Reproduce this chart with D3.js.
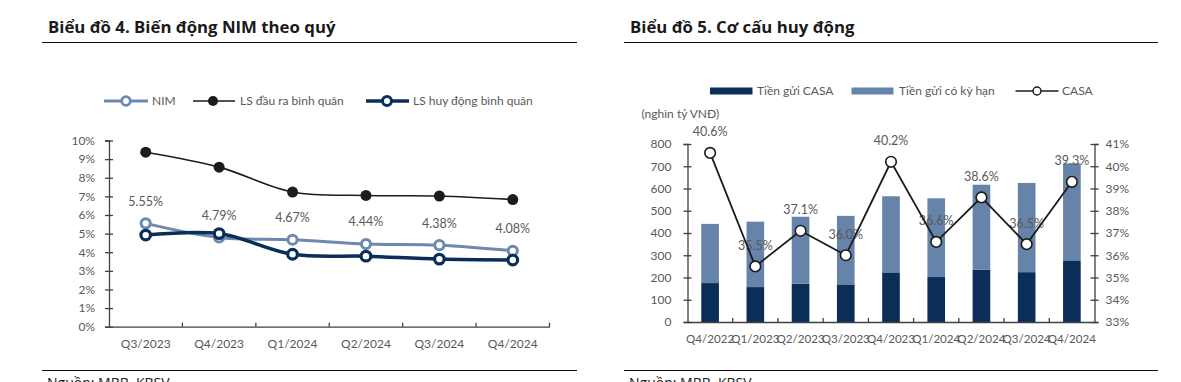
<!DOCTYPE html>
<html><head><meta charset="utf-8">
<script src="https://cdn.jsdelivr.net/npm/d3@7"></script>
<style>
body{margin:0;background:#fff;}
svg{display:block;font-family:Lato,"Open Sans",sans-serif;}
</style></head><body>
<svg id="c" width="1181" height="382"></svg>
<script>
// ---- Chart 4 data ----
const quarters4 = ["Q3/2023","Q4/2023","Q1/2024","Q2/2024","Q3/2024","Q4/2024"];
const nim = [5.55,4.79,4.67,4.44,4.38,4.08];
const lsDauRa = [9.37,8.57,7.23,7.05,7.02,6.83];
const lsHuyDong = [4.92,5.00,3.89,3.79,3.63,3.58];
const yTicks4 = [0,1,2,3,4,5,6,7,8,9,10];

// ---- Chart 5 data ----
const quarters5 = ["Q4/2022","Q1/2023","Q2/2023","Q3/2023","Q4/2023","Q1/2024","Q2/2024","Q3/2024","Q4/2024"];
const casaDeposits = [175,157,172,169,223,202,235,224,277];
const termDeposits = [266,294,301,308,342,354,382,401,436];
const casaRatio = [40.6,35.5,37.1,36.0,40.2,36.6,38.6,36.5,39.3];
const yTicksL5 = [0,100,200,300,400,500,600,700,800];
const yTicksR5 = [33,34,35,36,37,38,39,40,41];

const C_NIM = "#6D89AE", C_NAVY = "#0B2E59", C_BLACK = "#1c1c1c";
const C_DARK = "#0B2E59", C_LIGHT = "#6683AA";
const AX = "#404040", TXT = "#595959";

const svg = d3.select("#c");

// ---------- Titles / rules ----------
function header(x0, x1, title){
  svg.append("text").attr("x", x0+6).attr("y", 33).attr("font-size", 16.8).attr("font-weight", 700)
    .attr("fill", "#1a1a1a").attr("font-family","'Open Sans',sans-serif").text(title);
  svg.append("line").attr("x1", x0).attr("x2", x1).attr("y1", 42.5).attr("y2", 42.5).attr("stroke", "#111").attr("stroke-width", 1.2);
  svg.append("line").attr("x1", x0).attr("x2", x1).attr("y1", 370.5).attr("y2", 370.5).attr("stroke", "#111").attr("stroke-width", 1.2);
  svg.append("text").attr("x", x0+5).attr("y", 388).attr("font-size", 14).attr("fill", "#1a1a1a")
    .attr("font-family","'Open Sans',sans-serif").text("Nguồn: MBB, KBSV");
}
header(42, 577, "Biểu đồ 4. Biến động NIM theo quý");
header(624, 1158, "Biểu đồ 5. Cơ cấu huy động");

// ---------- Chart 4 ----------
{
  const x = d3.scaleBand().domain(quarters4).range([109, 549.5]).padding(0);
  const y = d3.scaleLinear().domain([0, 10]).range([326.7, 140.5]);
  const cx = d => x(d) + x.bandwidth()/2;
  const g = svg.append("g");

  // y axis
  const ya = g.append("g").attr("transform", "translate(109,0)")
    .call(d3.axisLeft(y).tickValues(yTicks4).tickFormat(d => d + "%").tickSize(4).tickPadding(10));
  ya.select(".domain").attr("stroke", AX).attr("stroke-width", 1.3);
  ya.selectAll(".tick line").attr("stroke", AX).attr("stroke-width", 1.3).attr("x2", 4).attr("x1", -4);
  ya.selectAll(".tick text").attr("fill", TXT).attr("font-size", 12).attr("font-family","Lato,sans-serif");

  // x axis
  const xa = g.append("g").attr("transform", "translate(0,326.7)")
    .call(d3.axisBottom(x).tickSize(0).tickPadding(13));
  xa.select(".domain").attr("stroke", AX).attr("stroke-width", 1.3);
  xa.selectAll(".tick text").attr("fill", TXT).attr("font-size", 12).attr("font-family","Lato,sans-serif");
  const bounds = quarters4.map(d => x(d)).slice(1).concat([x.range()[1]]);
  xa.selectAll(".bt").data(bounds).join("line").attr("class","bt")
    .attr("x1", d => d).attr("x2", d => d).attr("y1", -4).attr("y2", 0).attr("stroke", AX).attr("stroke-width", 1.3);

  const line = d3.line().x((d,i) => cx(quarters4[i])).y(d => y(d)).curve(d3.curveCatmullRom.alpha(0.5));

  // LS dau ra
  g.append("path").attr("d", line(lsDauRa)).attr("fill","none").attr("stroke", C_BLACK).attr("stroke-width", 1.6);
  g.selectAll(".pr").data(lsDauRa).join("circle").attr("cx",(d,i)=>cx(quarters4[i])).attr("cy", d=>y(d))
    .attr("r", 5.5).attr("fill", C_BLACK);

  // NIM
  g.append("path").attr("d", line(nim)).attr("fill","none").attr("stroke", C_NIM).attr("stroke-width", 3);
  g.selectAll(".pn").data(nim).join("circle").attr("cx",(d,i)=>cx(quarters4[i])).attr("cy", d=>y(d))
    .attr("r", 4.6).attr("fill", "#fff").attr("stroke", C_NIM).attr("stroke-width", 3);

  // LS huy dong
  g.append("path").attr("d", line(lsHuyDong)).attr("fill","none").attr("stroke", C_NAVY).attr("stroke-width", 3.5);
  g.selectAll(".ph").data(lsHuyDong).join("circle").attr("cx",(d,i)=>cx(quarters4[i])).attr("cy", d=>y(d))
    .attr("r", 4.8).attr("fill", "#fff").attr("stroke", C_NAVY).attr("stroke-width", 3.2);

  // NIM labels
  g.selectAll(".ln").data(nim).join("text").attr("x",(d,i)=>cx(quarters4[i])).attr("y", d=>y(d)-22)
    .attr("dy","0.35em").attr("text-anchor","middle").attr("font-size", 12.5).attr("fill", TXT)
    .text(d => d.toFixed(2) + "%");

  // legend
  const lg = svg.append("g").attr("font-size", 12).attr("fill", TXT);
  const items = [
    {x1:104, x2:148, mx:126, tx:152, c:C_NIM, w:3, r:4.3, fill:"#fff", sw:2.8, t:"NIM"},
    {x1:193, x2:235, mx:213, tx:240, c:C_BLACK, w:1.6, r:5, fill:C_BLACK, sw:0, t:"LS đầu ra bình quân"},
    {x1:366, x2:409, mx:387, tx:413, c:C_NAVY, w:3.5, r:4.5, fill:"#fff", sw:3, t:"LS huy động bình quân"}
  ];
  items.forEach(it => {
    lg.append("line").attr("x1",it.x1).attr("x2",it.x2).attr("y1",101).attr("y2",101).attr("stroke",it.c).attr("stroke-width",it.w);
    lg.append("circle").attr("cx",it.mx).attr("cy",101).attr("r",it.r).attr("fill",it.fill).attr("stroke",it.c).attr("stroke-width",it.sw);
    lg.append("text").attr("x",it.tx).attr("y",101).attr("dy","0.35em").attr("fill",TXT).text(it.t);
  });
}

// ---------- Chart 5 ----------
{
  const x = d3.scaleBand().domain(quarters5).range([687.5, 1094.5]).padding(0);
  const xb = d3.scaleBand().domain(quarters5).range([687.5, 1094.5]).paddingInner(0.61).paddingOuter(0.305);
  const y = d3.scaleLinear().domain([0, 800]).range([322, 144]);
  const yr = d3.scaleLinear().domain([33, 41]).range([322, 144]);
  const cx = d => x(d) + x.bandwidth()/2;
  const g = svg.append("g");

  // bars
  g.selectAll(".bd").data(casaDeposits).join("rect")
    .attr("x",(d,i)=>xb(quarters5[i])).attr("width", xb.bandwidth())
    .attr("y", d=>y(d)).attr("height", d=>y(0)-y(d)).attr("fill", C_DARK);
  g.selectAll(".bl").data(termDeposits).join("rect")
    .attr("x",(d,i)=>xb(quarters5[i])).attr("width", xb.bandwidth())
    .attr("y",(d,i)=>y(d+casaDeposits[i])).attr("height",(d,i)=>y(casaDeposits[i])-y(d+casaDeposits[i])).attr("fill", C_LIGHT);

  // axes
  const ya = g.append("g").attr("transform","translate(687.5,0)")
    .call(d3.axisLeft(y).tickValues(yTicksL5).tickSize(4).tickPadding(12));
  ya.select(".domain").attr("stroke", AX).attr("stroke-width", 1.3);
  ya.selectAll(".tick line").attr("stroke", AX).attr("stroke-width", 1.3).attr("x1",-4).attr("x2",4);
  ya.selectAll(".tick text").attr("fill", TXT).attr("font-size", 12).attr("font-family","Lato,sans-serif");

  const yra = g.append("g").attr("transform","translate(1094.5,0)")
    .call(d3.axisRight(yr).tickValues(yTicksR5).tickFormat(d=>d+"%").tickSize(4).tickPadding(7));
  yra.select(".domain").attr("stroke", AX).attr("stroke-width", 1.3);
  yra.selectAll(".tick line").attr("stroke", AX).attr("stroke-width", 1.3).attr("x1",-4).attr("x2",4);
  yra.selectAll(".tick text").attr("fill", TXT).attr("font-size", 12).attr("font-family","Lato,sans-serif");

  const xa = g.append("g").attr("transform","translate(0,322)")
    .call(d3.axisBottom(x).tickSize(0).tickPadding(13));
  xa.select(".domain").attr("stroke", AX).attr("stroke-width", 1.3);
  xa.selectAll(".tick text").attr("fill", TXT).attr("font-size", 11.6).attr("font-family","Lato,sans-serif");
  const bounds = quarters5.map(d => x(d)).slice(1);
  xa.selectAll(".bt").data(bounds).join("line").attr("class","bt")
    .attr("x1", d=>d).attr("x2", d=>d).attr("y1",-4).attr("y2",0).attr("stroke",AX).attr("stroke-width",1.3);

  // labels
  g.selectAll(".lc").data(casaRatio).join("text").attr("x",(d,i)=>cx(quarters5[i])).attr("y", d=>yr(d)-21)
    .attr("dy","0.35em").attr("text-anchor","middle").attr("font-size", 12.5).attr("fill", TXT)
    .text(d => d.toFixed(1) + "%");

  // CASA line
  const line = d3.line().x((d,i)=>cx(quarters5[i])).y(d=>yr(d));
  g.append("path").attr("d", line(casaRatio)).attr("fill","none").attr("stroke", C_BLACK).attr("stroke-width", 1.8);
  g.selectAll(".pc").data(casaRatio).join("circle").attr("cx",(d,i)=>cx(quarters5[i])).attr("cy", d=>yr(d))
    .attr("r", 5.3).attr("fill","#fff").attr("stroke", C_BLACK).attr("stroke-width", 1.6);

  // unit label
  svg.append("text").attr("x", 641.5).attr("y", 113.5).attr("dy","0.35em").attr("font-size", 12).attr("fill", TXT).text("(nghìn tỷ VNĐ)");

  // legend
  const lg = svg.append("g").attr("font-size", 12);
  lg.append("rect").attr("x",710).attr("y",87.5).attr("width",42.5).attr("height",7).attr("fill",C_DARK);
  lg.append("text").attr("x",757).attr("y",91).attr("dy","0.35em").attr("fill",TXT).text("Tiền gửi CASA");
  lg.append("rect").attr("x",851.5).attr("y",87.5).attr("width",42).attr("height",7).attr("fill",C_LIGHT);
  lg.append("text").attr("x",899).attr("y",91).attr("dy","0.35em").attr("fill",TXT).text("Tiền gửi có kỳ hạn");
  lg.append("line").attr("x1",1015.5).attr("x2",1058.5).attr("y1",91).attr("y2",91).attr("stroke",C_BLACK).attr("stroke-width",1.6);
  lg.append("circle").attr("cx",1037).attr("cy",91).attr("r",4).attr("fill","#fff").attr("stroke",C_BLACK).attr("stroke-width",1.5);
  lg.append("text").attr("x",1062).attr("y",91).attr("dy","0.35em").attr("fill",TXT).text("CASA");
}
</script>
</body></html>
